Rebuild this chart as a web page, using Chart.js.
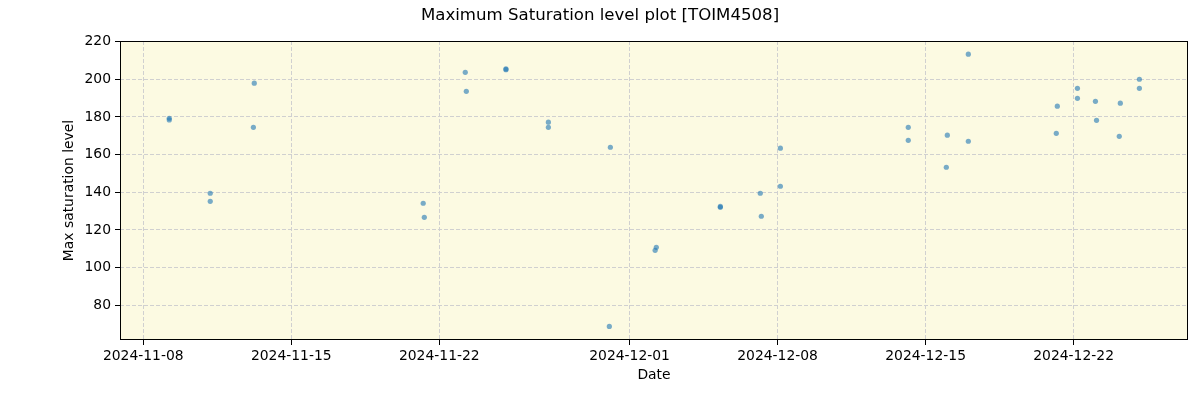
<!DOCTYPE html>
<html>
<head>
<meta charset="utf-8">
<script src="https://cdn.jsdelivr.net/npm/chart.js@4.4.0/dist/chart.umd.min.js"></script>
<style>
html,body{margin:0;padding:0;background:#fff;}
#wrap{width:1200px;height:400px;}
</style>
</head>
<body>
<div id="wrap"><canvas id="c" width="1200" height="400"></canvas></div>
<script>
const dates = [
  '2024-11-09T05:30', '2024-11-09T05:30',
  '2024-11-11T04:00', '2024-11-11T04:00',
  '2024-11-13T06:00', '2024-11-13T05:00',
  '2024-11-21T05:45', '2024-11-21T07:00',
  '2024-11-23T05:30', '2024-11-23T06:40',
  '2024-11-25T03:40', '2024-11-25T03:40',
  '2024-11-27T03:50', '2024-11-27T03:50',
  '2024-11-30T02:10', '2024-11-30T01:00',
  '2024-12-02T06:20', '2024-12-02T05:00',
  '2024-12-05T07:00', '2024-12-05T07:00',
  '2024-12-07T04:20', '2024-12-07T05:30',
  '2024-12-08T03:10', '2024-12-08T03:10',
  '2024-12-14T04:20', '2024-12-14T04:20',
  '2024-12-16T00:40', '2024-12-15T23:30',
  '2024-12-17T00:30', '2024-12-17T00:30',
  '2024-12-21T05:30', '2024-12-21T04:20',
  '2024-12-22T04:20', '2024-12-22T04:20',
  '2024-12-23T00:45', '2024-12-23T02:00',
  '2024-12-24T05:00', '2024-12-24T03:50',
  '2024-12-25T02:40', '2024-12-25T02:40'
];
const values = [
  179.3, 178.4,
  139.5, 135.2,
  197.9, 174.5,
  134.2, 126.7,
  203.7, 193.6,
  205.5, 205.1,
  177.2, 174.5,
  163.9, 68.8,
  110.8, 109.2,
  132.5, 132.0,
  139.5, 127.3,
  163.4, 143.2,
  174.5, 167.6,
  170.3, 153.3,
  213.3, 167.1,
  185.7, 171.3,
  195.2, 189.9,
  188.3, 178.2,
  187.3, 169.7,
  200.0, 195.2
];
const xTickLabels = ['2024-11-08', '2024-11-15', '2024-11-22', '2024-12-01', '2024-12-08', '2024-12-15', '2024-12-22'];
const yTickValues = [80, 100, 120, 140, 160, 180, 200, 220];

const toMs = s => Date.parse(s + (s.length === 10 ? 'T00:00:00Z' : ':00Z'));
const points = dates.map((d, i) => ({x: toMs(d), y: values[i]}));

const bgPlugin = {
  id: 'bg',
  beforeDraw(chart) {
    const a = chart.chartArea, ctx = chart.ctx;
    ctx.save();
    ctx.fillStyle = '#fcfae2';
    ctx.fillRect(a.left, a.top, a.right - a.left, a.bottom - a.top);
    ctx.restore();
  },
  afterDraw(chart) {
    const a = chart.chartArea, ctx = chart.ctx;
    ctx.save();
    ctx.strokeStyle = '#000';
    ctx.lineWidth = 1;
    ctx.strokeRect(Math.round(a.left) + 0.5, Math.round(a.top) + 0.5, Math.round(a.right - a.left) - 1, Math.round(a.bottom - a.top) - 1);
    ctx.restore();
  }
};

const font = {family: 'DejaVu Sans', size: 13.9};
new Chart(document.getElementById('c'), {
  type: 'scatter',
  data: {
    datasets: [{
      data: points,
      backgroundColor: 'rgba(31,119,180,0.6)',
      borderColor: 'rgba(31,119,180,0.6)',
      borderWidth: 0,
      pointRadius: 2.6,
      pointHoverRadius: 2.6
    }]
  },
  options: {
    responsive: false,
    animation: false,
    devicePixelRatio: 1,
    layout: {padding: {left: 12, right: 12, top: 0, bottom: 0}},
    plugins: {
      legend: {display: false},
      tooltip: {enabled: false},
      title: {
        display: true,
        text: 'Maximum Saturation level plot [TOIM4508]',
        color: '#000',
        font: {family: 'DejaVu Sans', size: 16.6, weight: 'normal', lineHeight: 1.2},
        padding: {top: 6, bottom: 15.1}
      }
    },
    scales: {
      x: {
        type: 'linear',
        min: toMs('2024-11-06T21:35'),
        max: toMs('2024-12-27T09:50'),
        afterBuildTicks: s => { s.ticks = xTickLabels.map(t => ({value: toMs(t)})); },
        afterFit: s => { s.height = 60; },
        ticks: {
          color: '#000', font, padding: 3, maxRotation: 0, autoSkip: false,
          callback: v => new Date(v).toISOString().slice(0, 10)
        },
        grid: {
          color: '#d0d0d0', lineWidth: 1,
          tickColor: '#000', tickLength: 5, tickBorderDash: [], tickWidth: 1
        },
        border: {display: false, dash: [4, 2]},
        title: {display: true, text: 'Date', color: '#000', font, padding: {top: 0, bottom: 16}}
      },
      y: {
        min: 61.6,
        max: 220.3,
        afterBuildTicks: s => { s.ticks = yTickValues.map(v => ({value: v})); },
        afterFit: s => { s.width = 108; },
        ticks: {color: '#000', font, padding: 4},
        grid: {
          color: '#d0d0d0', lineWidth: 1,
          tickColor: '#000', tickLength: 5, tickBorderDash: [], tickWidth: 1
        },
        border: {display: false, dash: [4, 2]},
        title: {display: true, text: 'Max saturation level', color: '#000', font, padding: {top: 49, bottom: 0}}
      }
    }
  },
  plugins: [bgPlugin]
});
</script>
</body>
</html>
